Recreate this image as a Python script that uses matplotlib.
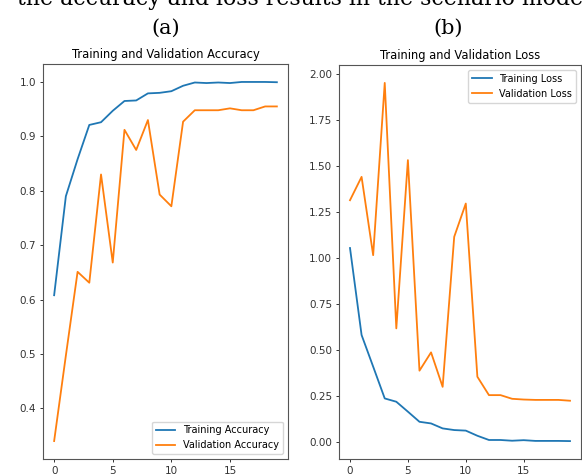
import numpy as np
import matplotlib
matplotlib.use("Agg")
import matplotlib.pyplot as plt

# values (20 epochs)
epochs = list(range(20))
train_acc = [0.608, 0.790, 0.858, 0.921, 0.926, 0.947, 0.965, 0.966, 0.979, 0.980,
             0.983, 0.993, 0.999, 0.998, 0.999, 0.998, 1.000, 1.000, 1.000, 0.9995]
val_acc = [0.340, 0.497, 0.651, 0.631, 0.830, 0.668, 0.912, 0.875, 0.930, 0.793,
           0.7715, 0.927, 0.948, 0.948, 0.948, 0.9515, 0.948, 0.948, 0.955, 0.955]
train_loss = [1.055, 0.582, 0.410, 0.237, 0.219, 0.165, 0.110, 0.101, 0.074, 0.065,
              0.062, 0.034, 0.011, 0.011, 0.007, 0.010, 0.006, 0.006, 0.006, 0.005]
val_loss = [1.315, 1.442, 1.016, 1.953, 0.618, 1.533, 0.388, 0.4875, 0.300, 1.116,
            1.297, 0.355, 0.255, 0.255, 0.235, 0.231, 0.229, 0.229, 0.229, 0.2245]

header = "the accuracy and loss results in the scenario mode"
panel_labels = ["(a)", "(b)"]

W, H = 582, 476
fig = plt.figure(figsize=(W / 100, H / 100), dpi=100)

def box(l, r, t, b):
    return [l / W, (H - b) / H, (r - l) / W, (b - t) / H]

ax1 = fig.add_axes(box(43, 288, 64, 459))
ax2 = fig.add_axes(box(339, 581, 65, 459))

fs_tick = 7.5
fs_leg = 7
for ax in (ax1, ax2):
    for s in ax.spines.values():
        s.set_color("#555555")
        s.set_linewidth(0.8)
    ax.tick_params(labelsize=fs_tick, length=2.5, width=0.7, pad=2.5,
                   colors="#333333")

ax1.plot(epochs, train_acc, lw=1.3, label="Training Accuracy")
ax1.plot(epochs, val_acc, lw=1.3, label="Validation Accuracy")
ax1.legend(loc="lower right", fontsize=fs_leg)
ax1.set_title("Training and Validation Accuracy", fontsize=8.3, pad=4.5)
ax1.set_xticks([0, 5, 10, 15])

ax2.plot(epochs, train_loss, lw=1.3, label="Training Loss")
ax2.plot(epochs, val_loss, lw=1.3, label="Validation Loss")
ax2.legend(loc="upper right", fontsize=fs_leg)
ax2.set_title("Training and Validation Loss", fontsize=8.3, pad=4.5)
ax2.set_xticks([0, 5, 10, 15])

# caption text from the page, cut by the top edge as in the screenshot
fig.text(17 / W, 1 - 5 / H, header, family="DejaVu Serif", fontsize=15.8,
         va="baseline", ha="left", color="black")
fig.text(166 / W, 1 - 34 / H, panel_labels[0], family="DejaVu Serif",
         fontsize=15, va="baseline", ha="center")
fig.text(448 / W, 1 - 34 / H, panel_labels[1], family="DejaVu Serif",
         fontsize=15, va="baseline", ha="center")

fig.savefig("out.png", dpi=100)
